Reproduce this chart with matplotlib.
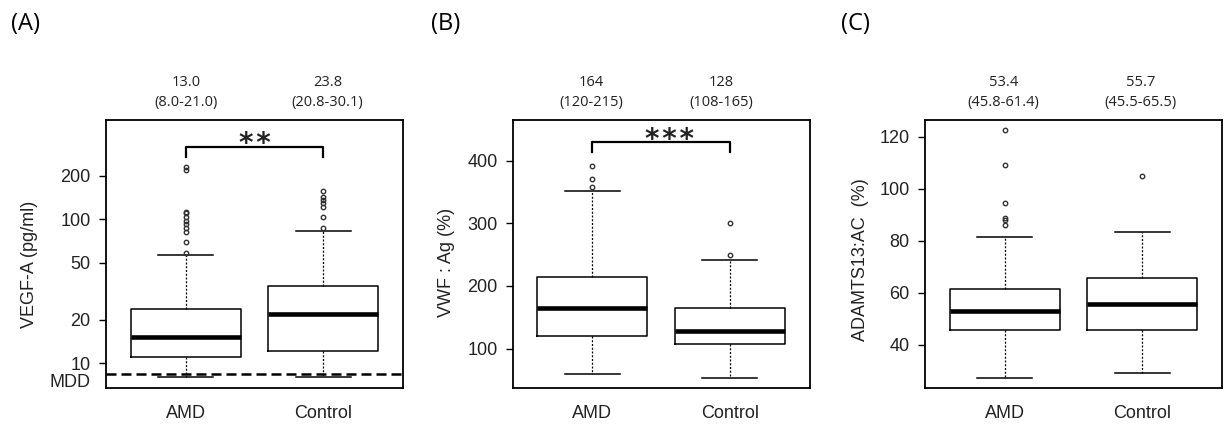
import matplotlib
matplotlib.use("Agg")
import matplotlib.pyplot as plt
import matplotlib.transforms as mtransforms
from matplotlib.ticker import FixedLocator

plt.rcParams["font.family"] = ["Liberation Sans", "DejaVu Sans"]

# group labels
groups = ["AMD", "Control"]

# (A) VEGF-A, pg/ml (log scale)
vegf_q1 = [11.1, 12.2]
vegf_med = [15.3, 21.9]
vegf_q3 = [23.7, 34.6]
vegf_lo = [8.0, 8.0]
vegf_hi = [56.8, 83.4]
vegf_out = [[58, 69, 81, 87, 93, 97, 104, 110, 113, 220, 229],
            [87, 104, 122, 129, 136, 142, 158]]
vegf_top = ["13.0", "23.8"]
vegf_iqr = ["(8.0-21.0)", "(20.8-30.1)"]
vegf_mdd = 8.43

# (B) VWF:Ag, %
vwf_q1 = [120, 108]
vwf_med = [164.5, 128]
vwf_q3 = [214.6, 164.5]
vwf_lo = [59.4, 53]
vwf_hi = [351.7, 241]
vwf_out = [[358, 370, 391], [250, 301]]
vwf_top = ["164", "128"]
vwf_iqr = ["(120-215)", "(108-165)"]

# (C) ADAMTS13:AC, %
adam_q1 = [45.8, 45.5]
adam_med = [53.1, 55.7]
adam_q3 = [61.3, 65.5]
adam_lo = [27.4, 29.3]
adam_hi = [81.5, 83.5]
adam_out = [[85.9, 88.1, 88.6, 94.5, 109.2, 122.4], [105]]
adam_top = ["53.4", "55.7"]
adam_iqr = ["(45.8-61.4)", "(45.5-65.5)"]

W, H = 1228, 424
fig = plt.figure(figsize=(W / 100, H / 100), dpi=100)

txt_col = "#222222"


def make_stats(q1, med, q3, lo, hi, out):
    stats = []
    for i in range(len(groups)):
        stats.append(dict(q1=q1[i], med=med[i], q3=q3[i], whislo=lo[i],
                          whishi=hi[i], fliers=out[i], label=groups[i]))
    return stats


def draw_panel(left, stats, ylabel, label_xy, top, iqr, ann_x):
    ax = fig.add_axes([left / W, 0.085, 297 / W, 0.632])
    ax.bxp(stats, positions=[1, 2], widths=0.8, patch_artist=False,
           boxprops=dict(color="black", linewidth=1.1),
           medianprops=dict(color="black", linewidth=3.3, solid_capstyle="butt"),
           whiskerprops=dict(color="black", linewidth=0.9, linestyle=(0, (1.6, 1.4))),
           capprops=dict(color="black", linewidth=1.1),
           flierprops=dict(marker="o", markersize=3.2, markerfacecolor="none",
                           markeredgecolor="#333333", markeredgewidth=1.0))
    ax.set_xlim(0.42, 2.58)
    for s in ax.spines.values():
        s.set_linewidth(1.3)
    ax.tick_params(axis="x", length=0, pad=12, labelsize=13, labelcolor=txt_col)
    ax.tick_params(axis="y", length=5, width=1, pad=6, labelsize=13,
                   labelcolor=txt_col)
    ax.text(label_xy[0], label_xy[1], ylabel, transform=ax.transAxes,
            rotation=90, ha="center", va="center", fontsize=13, color=txt_col)
    trans = mtransforms.blended_transform_factory(ax.transData, ax.transAxes)
    for i in range(len(groups)):
        ax.text(ann_x[i], 1.139, top[i], transform=trans, ha="center",
                va="center", fontsize=10.5, family="Open Sans", color=txt_col)
        ax.text(ann_x[i], 1.065, iqr[i], transform=trans, ha="center",
                va="center", fontsize=10.5, family="Open Sans", color=txt_col)
    return ax


# ---- (A)
axA = draw_panel(106, make_stats(vegf_q1, vegf_med, vegf_q3, vegf_lo, vegf_hi, vegf_out),
                 "VEGF-A (pg/ml)", (-0.259, 0.46), vegf_top, vegf_iqr, [1.0, 2.03])
axA.set_yscale("log")
axA.set_ylim(6.74, 489)
axA.yaxis.set_major_locator(FixedLocator([10, 20, 50, 100, 200]))
axA.set_yticklabels(["10", "20", "50", "100", "200"])
axA.set_yticks([7.65], ["MDD"], minor=True)
axA.tick_params(axis="y", which="minor", length=0, pad=11.5, labelsize=13,
                labelcolor=txt_col)
axA.axhline(vegf_mdd, color="black", linewidth=1.8, linestyle=(0, (4, 2)))
axA.plot([1, 1, 2, 2], [269, 316, 316, 269], color="black", linewidth=1.6)
axA.text(1.5, 293, "*\u200a*", ha="center", va="baseline", fontsize=20,
         family="DejaVu Sans", fontweight="bold", color=txt_col)

# ---- (B)
axB = draw_panel(512.7, make_stats(vwf_q1, vwf_med, vwf_q3, vwf_lo, vwf_hi, vwf_out),
                 "VWF : Ag (%)", (-0.222, 0.47), vwf_top, vwf_iqr, [0.99, 1.94])
axB.set_ylim(37, 465)
axB.set_yticks([100, 200, 300, 400])
axB.plot([1, 1, 2, 2], [414, 430, 430, 414], color="black", linewidth=1.6)
axB.text(1.56, 420, "*\u200a*\u200a*", ha="center", va="baseline", fontsize=20,
         family="DejaVu Sans", fontweight="bold", color=txt_col)

# ---- (C)
axC = draw_panel(925, make_stats(adam_q1, adam_med, adam_q3, adam_lo, adam_hi, adam_out),
                 "ADAMTS13:AC  (%)", (-0.218, 0.478), adam_top, adam_iqr, [0.99, 1.99])
axC.set_ylim(23.4, 126.4)
axC.set_yticks([40, 60, 80, 100, 120])

# panel letters
for x, lab in [(26, "(A)"), (446, "(B)"), (855, "(C)")]:
    fig.text(x / W, 1 - 24 / H, lab, ha="center", va="center", fontsize=17,
             family="Open Sans", color="black")

fig.savefig("out.png", dpi=100)
